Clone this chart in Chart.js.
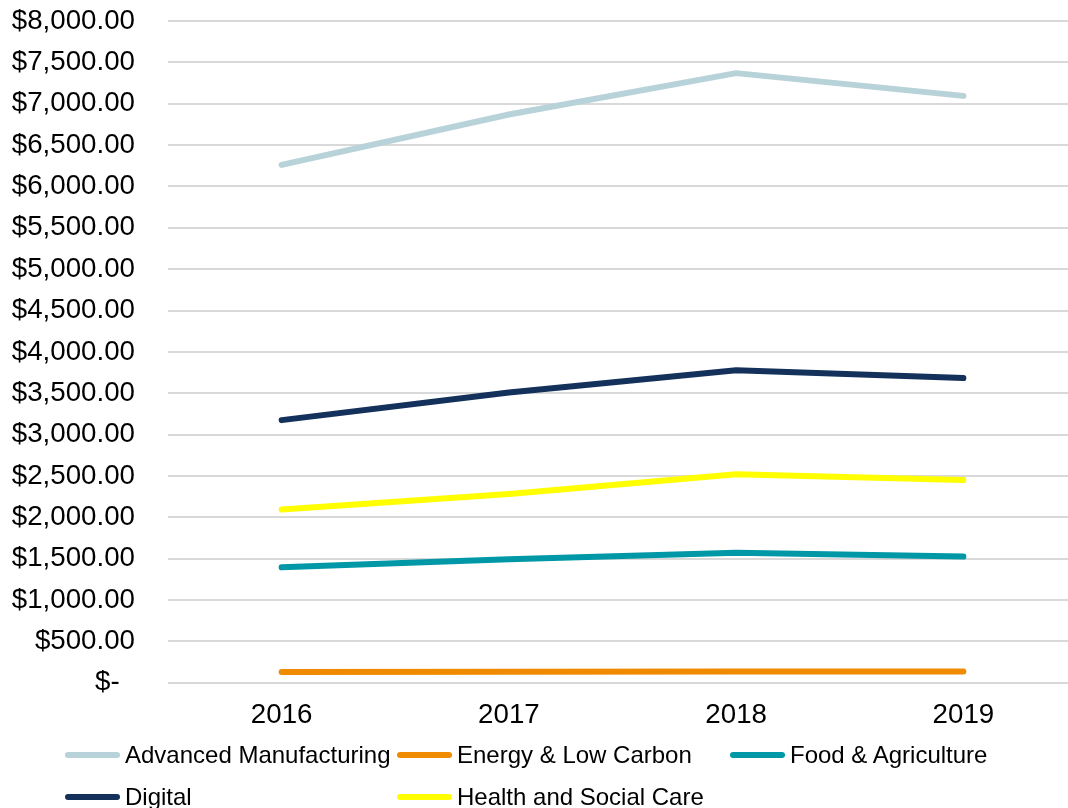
<!DOCTYPE html>
<html>
<head>
<meta charset="utf-8">
<script src="https://cdn.jsdelivr.net/npm/chart.js@4/dist/chart.umd.min.js"></script>
<style>
  html, body { margin: 0; padding: 0; background: #fff; overflow: hidden; }
  #wrap { position: relative; width: 1068px; height: 808px; overflow: hidden; }
  #chart { position: absolute; left: 0; top: 0; }
  #legend { position: absolute; left: 0; top: 0; width: 1068px; height: 808px; pointer-events: none;
            font-family: "Liberation Sans", Arial, sans-serif; font-size: 24px; color: #000; }
  .item { position: absolute; display: flex; align-items: center; white-space: nowrap; }
  .swatch { width: 55px; height: 6px; border-radius: 3px; margin-right: 5px; }
</style>
</head>
<body>
<div id="wrap">
  <canvas id="chart" width="1078" height="808"></canvas>
  <div id="legend"></div>
</div>
<script>
// Sector spending by year
const years = ['2016', '2017', '2018', '2019'];

const advancedManufacturing = [6260, 6870, 7370, 7095];
const energyLowCarbon       = [130, 132, 135, 135];
const foodAgriculture       = [1395, 1493, 1573, 1525];
const digital               = [3175, 3510, 3778, 3683];
const healthSocialCare      = [2095, 2282, 2520, 2452];

const seriesNames  = ['Advanced Manufacturing', 'Energy & Low Carbon', 'Food & Agriculture', 'Digital', 'Health and Social Care'];
const seriesValues = [advancedManufacturing, energyLowCarbon, foodAgriculture, digital, healthSocialCare];
const seriesColors = ['#B7D2D8', '#F08A00', '#0097A7', '#13315A', '#FFFF00'];

const yMin = 0, yMax = 8000, yStep = 500;

const FONT = '"Liberation Sans", Arial, sans-serif';

function currency(v) {
  if (v === 0) return '$-  ';
  return '$' + v.toLocaleString('en-US', { minimumFractionDigits: 2, maximumFractionDigits: 2 });
}

const datasets = seriesNames.map((name, i) => ({
  label: name,
  data: seriesValues[i],
  borderColor: seriesColors[i],
  backgroundColor: seriesColors[i],
  borderWidth: 6,
  borderCapStyle: 'round',
  borderJoinStyle: 'round',
  pointRadius: 0,
  pointHoverRadius: 0,
  tension: 0,
  fill: false
}));

const chart = new Chart(document.getElementById('chart'), {
  type: 'line',
  data: { labels: years, datasets },
  options: {
    responsive: false,
    animation: false,
    devicePixelRatio: 1,
    layout: { padding: { left: 0, right: 1, top: 21, bottom: 60 } },
    plugins: { legend: { display: false }, tooltip: { enabled: false } },
    scales: {
      x: {
        offset: true,
        grid: { display: false, drawTicks: false, offset: true },
        border: { display: false },
        ticks: { color: '#000', font: { family: FONT, size: 27.7 }, padding: 16, maxRotation: 0 }
      },
      y: {
        min: yMin,
        max: yMax,
        afterFit(scale) { scale.width = 168; },
        grid: { color: '#d9d9d9', lineWidth: 2, drawTicks: true, tickLength: 33, tickColor: 'rgba(0,0,0,0)' },
        border: { display: false },
        ticks: {
          stepSize: yStep,
          color: '#000',
          font: { family: FONT, size: 27.7 },
          padding: 0,
          callback: (v) => currency(v)
        }
      }
    }
  }
});

// Legend laid out in fixed columns beneath the plot
const legendEl = document.getElementById('legend');
const colX = [65, 397, 730];
const rowY = [755, 797];
chart.data.datasets.forEach((ds, i) => {
  const item = document.createElement('div');
  item.className = 'item';
  item.style.left = colX[i % 3] + 'px';
  item.style.top = (rowY[Math.floor(i / 3)] - 14) + 'px';
  item.style.height = '28px';
  const sw = document.createElement('span');
  sw.className = 'swatch';
  sw.style.background = ds.borderColor;
  const tx = document.createElement('span');
  tx.textContent = ds.label;
  item.appendChild(sw);
  item.appendChild(tx);
  legendEl.appendChild(item);
});
</script>
</body>
</html>
